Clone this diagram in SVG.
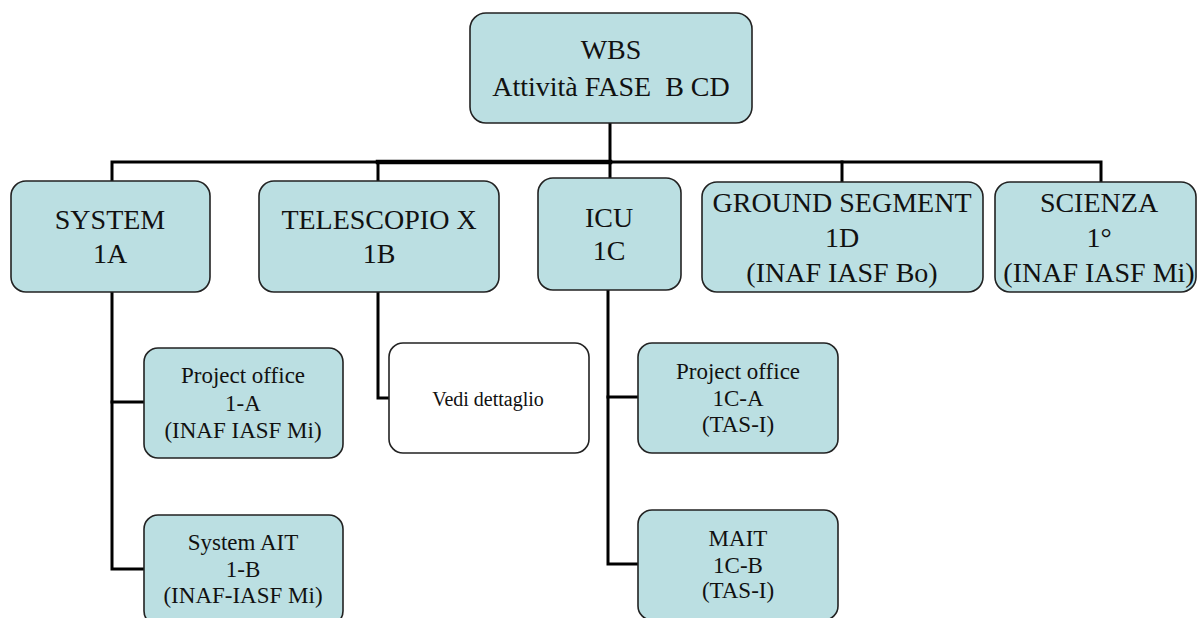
<svg xmlns="http://www.w3.org/2000/svg" width="1198" height="618" viewBox="0 0 1198 618">
<style>
.box{fill:#bbdfe2;stroke:#222;stroke-width:1.6}
.wbox{fill:#ffffff;stroke:#222;stroke-width:1.6}
text{fill:#111;text-anchor:middle;font-family:'Liberation Serif','Times New Roman',serif}
.big{font-size:28px}
.sm{font-size:23px}
.vd{font-size:20px}
.ln{fill:none;stroke:#000;stroke-width:3;stroke-linecap:square}
</style>
<rect width="1198" height="618" fill="#ffffff"/>
<g id="connectors">
<path class="ln" d="M610 123 V178"/>
<path class="ln" d="M112 181 V162 H378"/>
<path class="ln" d="M378 162 H610" style="stroke-width:4.5"/>
<path class="ln" d="M610 162 H1101 V182"/>
<path class="ln" d="M378 162 V181"/>
<path class="ln" d="M842 162 V182"/>
<path class="ln" d="M112 292 V569 H144"/>
<path class="ln" d="M112 402 H144"/>
<path class="ln" d="M378 292 V398 H389"/>
<path class="ln" d="M608 290 V564 H638"/>
<path class="ln" d="M608 397 H638"/>
</g>
<g id="wbs">
<rect class="box" x="470" y="13" width="282" height="110" rx="16"/>
<text class="big" x="611" y="59">WBS</text>
<text class="big" x="611" y="96" xml:space="preserve">Attività FASE  B CD</text>
</g>
<g id="system">
<rect class="box" x="11" y="181" width="199" height="111" rx="15"/>
<text class="big" x="110" y="229">SYSTEM</text>
<text class="big" x="110" y="263">1A</text>
</g>
<g id="telescopio">
<rect class="box" x="259" y="181" width="240" height="111" rx="15"/>
<text class="big" x="379" y="229">TELESCOPIO X</text>
<text class="big" x="379" y="263">1B</text>
</g>
<g id="icu">
<rect class="box" x="538" y="178" width="143" height="112" rx="15"/>
<text class="big" x="609" y="227">ICU</text>
<text class="big" x="609" y="260">1C</text>
</g>
<g id="ground">
<rect class="box" x="702" y="182" width="281" height="110" rx="15"/>
<text class="big" x="842" y="212">GROUND SEGMENT</text>
<text class="big" x="842" y="247">1D</text>
<text class="big" x="842" y="282">(INAF IASF Bo)</text>
</g>
<g id="scienza">
<rect class="box" x="995" y="182" width="201" height="110" rx="15"/>
<text class="big" x="1099" y="212">SCIENZA</text>
<text class="big" x="1099" y="247">1°</text>
<text class="big" x="1099" y="282">(INAF IASF Mi)</text>
</g>
<g id="po1a">
<rect class="box" x="144" y="348" width="199" height="110" rx="14"/>
<text class="sm" x="243" y="383">Project office</text>
<text class="sm" x="243" y="411">1-A</text>
<text class="sm" x="243" y="438">(INAF IASF Mi)</text>
</g>
<g id="ait1b">
<rect class="box" x="144" y="515" width="199" height="110" rx="14"/>
<text class="sm" x="243" y="550">System AIT</text>
<text class="sm" x="243" y="577">1-B</text>
<text class="sm" x="243" y="603">(INAF-IASF Mi)</text>
</g>
<g id="vedi">
<rect class="wbox" x="389" y="343" width="200" height="110" rx="14"/>
<text class="vd" x="488" y="406">Vedi dettaglio</text>
</g>
<g id="po1ca">
<rect class="box" x="638" y="343" width="200" height="110" rx="14"/>
<text class="sm" x="738" y="379">Project office</text>
<text class="sm" x="738" y="406">1C-A</text>
<text class="sm" x="738" y="432">(TAS-I)</text>
</g>
<g id="mait">
<rect class="box" x="638" y="510" width="200" height="110" rx="14"/>
<text class="sm" x="738" y="546">MAIT</text>
<text class="sm" x="738" y="573">1C-B</text>
<text class="sm" x="738" y="598">(TAS-I)</text>
</g>
</svg>
